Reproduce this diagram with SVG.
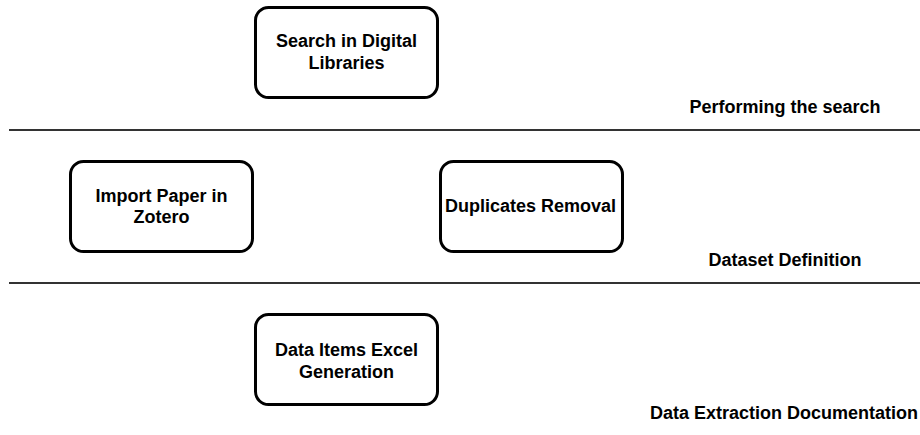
<svg xmlns="http://www.w3.org/2000/svg" width="920" height="435" viewBox="0 0 920 435">
  <style>
    .node rect { fill: #ffffff; stroke: #000000; stroke-width: 3; }
    .node text, .lane-label { font-family: "Liberation Sans", Arial, sans-serif; font-weight: bold; font-size: 18px; fill: #000000; text-anchor: middle; }
    .divider { stroke: #333333; stroke-width: 2; fill: none; }
  </style>
  <rect x="0" y="0" width="920" height="435" fill="#ffffff"/>

  <!-- lane dividers and lane titles -->
  <g id="lanes">
    <line class="divider" x1="9" y1="130" x2="920" y2="130"/>
    <line class="divider" x1="9" y1="283" x2="920" y2="283"/>
    <text class="lane-label" x="785" y="113">Performing the search</text>
    <text class="lane-label" x="785" y="266">Dataset Definition</text>
    <text class="lane-label" x="784" y="419">Data Extraction Documentation</text>
  </g>

  <g id="connectors"></g>

  <g id="search-digital-libraries" class="node">
    <rect x="255.5" y="7.5" width="182" height="90" rx="13" ry="13"/>
    <text x="346.5" y="47">Search in Digital</text>
    <text x="346.5" y="68.5">Libraries</text>
  </g>

  <g id="import-paper-zotero" class="node">
    <rect x="70.5" y="161.5" width="182" height="90" rx="13" ry="13"/>
    <text x="161.5" y="201.5">Import Paper in</text>
    <text x="161.5" y="223">Zotero</text>
  </g>

  <g id="duplicates-removal" class="node">
    <rect x="440.5" y="161.5" width="182" height="90" rx="13" ry="13"/>
    <text x="530.5" y="212">Duplicates Removal</text>
  </g>

  <g id="data-items-excel" class="node">
    <rect x="255.5" y="314.5" width="182" height="90" rx="13" ry="13"/>
    <text x="346.5" y="355.5">Data Items Excel</text>
    <text x="346.5" y="377.5">Generation</text>
  </g>
</svg>
